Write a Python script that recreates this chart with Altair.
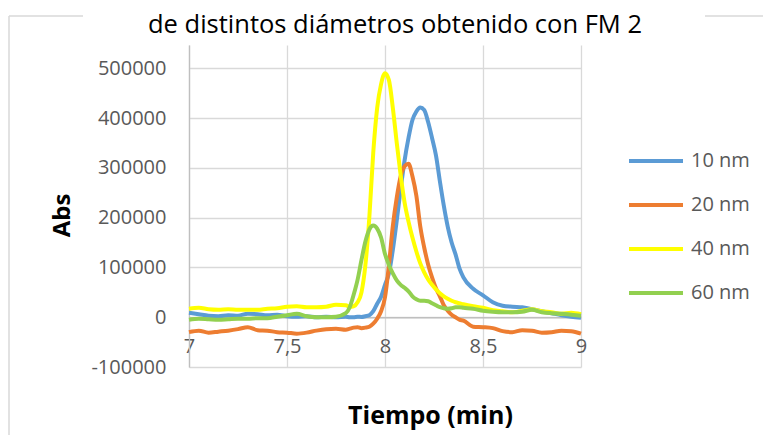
import altair as alt
import pandas as pd

# Retention time (min)
times = [7.00, 7.05, 7.10, 7.15, 7.20, 7.25, 7.30, 7.35, 7.40, 7.45, 7.50, 7.55, 7.60, 7.65, 7.70, 7.75, 7.80,
         7.82, 7.84, 7.86, 7.88, 7.90, 7.92, 7.94, 7.96, 7.98, 8.00, 8.02, 8.04, 8.06, 8.08, 8.10, 8.12, 8.14,
         8.16, 8.18, 8.20, 8.22, 8.24, 8.26, 8.28, 8.30, 8.32, 8.34, 8.36, 8.38, 8.40,
         8.45, 8.50, 8.55, 8.60, 8.65, 8.70, 8.75, 8.80, 8.85, 8.90, 8.95, 9.00]

abs_10nm = [9000, 6000, 3000, 2000, 4000, 3000, 7000, 6000, 4000, 5000, 2000, 1000, 2000, 0, 1000, 0, 1000,
            0, 0, 1000, 500, 2000, 4000, 12000, 27000, 41000, 65000, 88000, 135000, 194000, 258000, 315000,
            360000, 396000, 413000, 421000, 416000, 392000, 360000, 325000, 273000, 224000, 182000, 150000,
            126000, 98000, 80000,
            57000, 44000, 30000, 23000, 21000, 20000, 16000, 12000, 8000, 4000, 1000, -1000]

abs_20nm = [-30000, -27000, -31000, -29000, -27000, -24000, -20000, -26000, -27000, -30000, -31000, -33000,
            -31000, -27000, -24000, -23000, -25000,
            -23000, -21000, -20000, -22000, -21000, -19000, -13000, -3000, 12000, 40000, 105000, 183000,
            240000, 283000, 303000, 308000, 283000, 244000, 182000, 140000, 106000, 80000, 58000, 42000,
            24000, 13000, 5000, 0, -5000, -7000,
            -19000, -20000, -22000, -28000, -30000, -26000, -27000, -31000, -30000, -27000, -28000, -33000]

abs_40nm = [17000, 19000, 16000, 15000, 16000, 15000, 15000, 15000, 17000, 18000, 21000, 22000, 20000, 20000,
            21000, 25000, 24000,
            21000, 22000, 30000, 50000, 105000, 200000, 330000, 420000, 468000, 490000, 476000, 420000,
            350000, 285000, 230000, 192000, 160000, 132000, 108000, 90000, 76000, 65000, 56000, 48000,
            42000, 37000, 33000, 30000, 28000, 26000,
            22000, 19000, 14000, 12000, 10000, 13000, 16000, 12000, 10000, 7000, 9000, 6000]

abs_60nm = [-5000, -3000, -4000, -5000, -4000, -3000, -3000, -2000, -2000, 1000, 4000, 7000, 2000, 0, 0,
            1000, 8000,
            20000, 45000, 75000, 115000, 152000, 176000, 184000, 178000, 160000, 127000, 105000, 88000,
            74000, 65000, 59000, 52000, 42000, 36000, 33000, 33000, 32000, 28000, 24000, 20000,
            18000, 17000, 18000, 20000, 20000, 19000,
            17000, 13000, 11000, 10000, 10000, 11000, 15000, 10000, 8000, 7000, 5000, 3000]

series_names = ["10 nm", "20 nm", "40 nm", "60 nm"]
series_colors = ["#5B9BD5", "#ED7D31", "#FFFF00", "#92D050"]
x_ticks = [7, 7.5, 8, 8.5, 9]
y_ticks = [-100000, 0, 100000, 200000, 300000, 400000, 500000]

rows = []
for name, values in zip(series_names, [abs_10nm, abs_20nm, abs_40nm, abs_60nm]):
    for t, v in zip(times, values):
        rows.append({"Tiempo": t, "Abs": v, "Serie": name})
df = pd.DataFrame(rows)

FONT = "Open Sans"
PLOT_W, PLOT_H = 392, 322

lines = alt.Chart(df).mark_line(strokeWidth=4, interpolate="monotone").encode(
    x=alt.X("Tiempo:Q",
            scale=alt.Scale(domain=[7, 9], nice=False, zero=False),
            axis=alt.Axis(values=x_ticks, grid=True, gridColor="#D9D9D9", gridWidth=1.3,
                          domainColor="#BFBFBF", domainWidth=1.5, ticks=False,
                          offset=-49.8, labelPadding=19, labelFlush=False, labelOverlap=False,
                          labelExpr="replace(toString(datum.value), '.', ',')",
                          labelFont=FONT, labelFontSize=20, labelColor="#595959",
                          title="Tiempo (min)", titleFont=FONT, titleFontSize=25,
                          titleFontWeight="bold", titleColor="#000000",
                          titleX=241, titleY=98, titleAlign="center", titleBaseline="middle")),
    y=alt.Y("Abs:Q",
            scale=alt.Scale(domain=[-100000, 546600], nice=False, zero=False),
            axis=alt.Axis(values=y_ticks, grid=True, gridColor="#D9D9D9", gridWidth=1.3,
                          domainColor="#BFBFBF", domainWidth=1.3, ticks=False,
                          labelExpr="toString(datum.value)",
                          labelPadding=23, labelFlush=False, labelOverlap=False,
                          labelFont=FONT, labelFontSize=20, labelColor="#595959",
                          title="Abs", titleFont=FONT, titleFontSize=24, titleFontWeight="bold",
                          titleColor="#000000", titleAngle=-90, titleX=-127, titleY=170,
                          titleAlign="center", titleBaseline="middle")),
    color=alt.Color("Serie:N",
                    scale=alt.Scale(domain=series_names, range=series_colors),
                    legend=alt.Legend(title=None, orient="none", legendX=438, legendY=87,
                                      symbolType="stroke", symbolSize=2916, symbolStrokeWidth=4,
                                      labelFont=FONT, labelFontSize=20, labelColor="#595959",
                                      labelOffset=6, rowPadding=5, padding=0)),
)

# Light outer frame of the chart area
frame_df = pd.DataFrame({"k": [0]})
frame_left = alt.Chart(frame_df).mark_rule(color="#D9D9D9", strokeWidth=1.5).encode(
    x=alt.value(-180), y=alt.value(-29), y2=alt.value(400))
frame_top_left = alt.Chart(frame_df).mark_rule(color="#D9D9D9", strokeWidth=1.5).encode(
    x=alt.value(-180), x2=alt.value(-106), y=alt.value(-29))
frame_top_right = alt.Chart(frame_df).mark_rule(color="#D9D9D9", strokeWidth=1.5).encode(
    x=alt.value(516), x2=alt.value(590), y=alt.value(-29))

chart = alt.layer(frame_left, frame_top_left, frame_top_right, lines).properties(
    width=PLOT_W, height=PLOT_H,
    title=alt.TitleParams(text="de distintos diámetros obtenido con FM 2", font=FONT, fontSize=25.5,
                          fontWeight="normal", color="#000000", anchor="middle", dx=10,
                          baseline="alphabetic", offset=0, dy=43),
    autosize=alt.AutoSizeParams(type="none"),
    padding={"left": 189, "top": 45, "right": 182, "bottom": 68},
    background="#FFFFFF",
).configure_view(stroke=None)

chart.save("out.html", embed_options={"renderer": "svg", "actions": False})
